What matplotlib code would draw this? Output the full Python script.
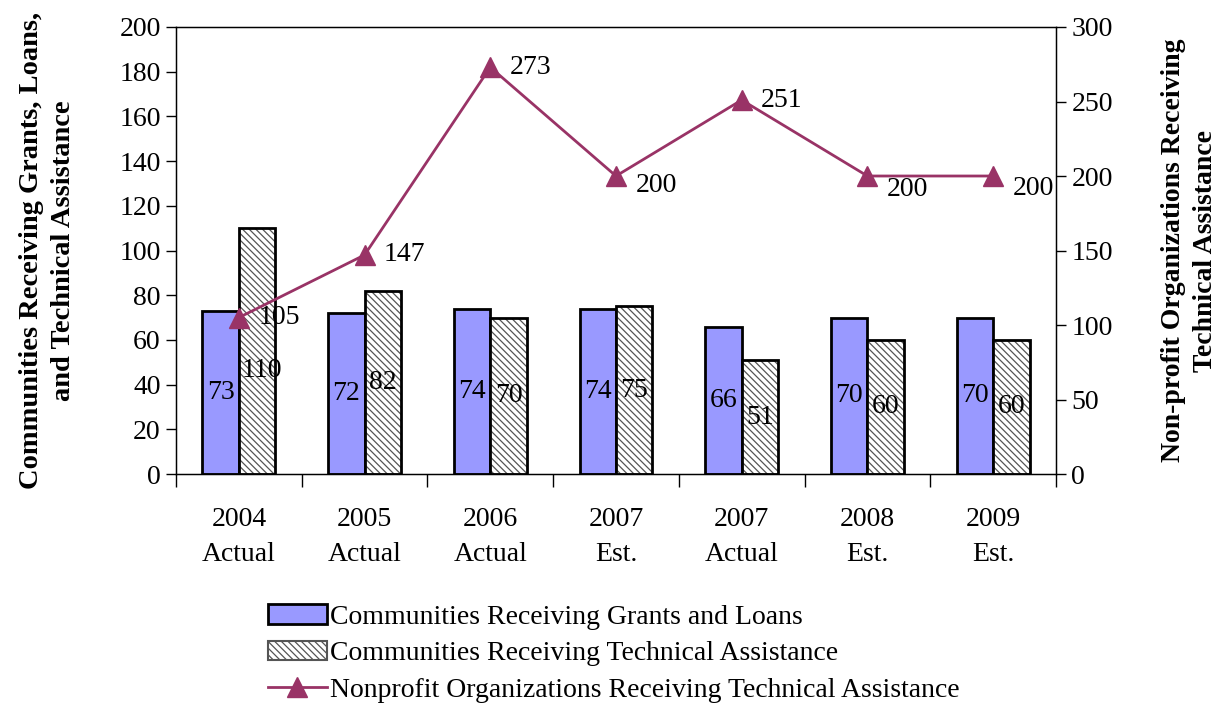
import matplotlib.pyplot as plt
import numpy as np
from matplotlib.patches import Patch
from matplotlib.lines import Line2D

years = ["2004\nActual", "2005\nActual", "2006\nActual", "2007\nEst.",
         "2007\nActual", "2008\nEst.", "2009\nEst."]
grants_loans = [73, 72, 74, 74, 66, 70, 70]
tech_assist = [110, 82, 70, 75, 51, 60, 60]
nonprofits = [105, 147, 273, 200, 251, 200, 200]

plt.rcParams['font.family'] = ['Liberation Serif', 'DejaVu Serif']
plt.rcParams['hatch.linewidth'] = 0.9

BLUE = '#9999FF'
PLUM = '#993366'
HATCH_GRAY = '#555555'
FS = 20

fig = plt.figure(figsize=(12.17, 7.03), dpi=100)
ax = fig.add_axes([0.1446, 0.3257, 0.7231, 0.6359])

x = np.arange(len(years))
w = 0.29

ax.bar(x - w / 2, grants_loans, w, color=BLUE, edgecolor='black', linewidth=2, zorder=2)
# hatched fill first, then a plain black outline on top
ax.bar(x + w / 2, tech_assist, w, color='white', edgecolor=HATCH_GRAY,
       hatch='\\\\\\\\\\', linewidth=0, zorder=2)
ax.bar(x + w / 2, tech_assist, w, color='none', edgecolor='black', linewidth=2, zorder=3)

for xi, v in zip(x, grants_loans):
    ax.text(xi - w / 2, v / 2, str(v), ha='center', va='center', fontsize=FS, zorder=5)
# the tallest label is nudged down so it clears the line label above it
for xi, v in zip(x, tech_assist):
    ax.text(xi + w / 2 + (0.04 if v >= 100 else 0), v / 2 - (8.5 if v >= 100 else 0), str(v),
            ha='center', va='center', fontsize=FS, zorder=5)

ax.set_xlim(-0.5, len(years) - 0.5)
ax.set_ylim(0, 200)
ax.set_yticks(range(0, 201, 20))
ax.set_xticks(x)
ax.set_xticklabels(years, fontsize=FS, linespacing=1.5)
ax.set_xticks(np.arange(-0.5, len(years), 1), minor=True)
ax.tick_params(axis='x', which='major', length=0, pad=24)
ax.tick_params(axis='x', which='minor', length=9, width=1, direction='out')
ax.tick_params(axis='y', labelsize=FS, length=7, width=1, direction='out', pad=4)
for s in ax.spines.values():
    s.set_linewidth(1)
ax.set_ylabel("Communities Receiving Grants, Loans,\nand Technical Assistance",
              fontsize=20.5, fontweight='bold', labelpad=31, linespacing=1.35)

ax2 = ax.twinx()
ax2.plot(x, nonprofits, color=PLUM, linewidth=2, marker='^', markersize=14, zorder=6)
label_dy = [0, 0, 0, -7, 0, -10, -9]
for xi, v, dy in zip(x, nonprofits, label_dy):
    ax2.annotate(str(v), (xi, v), xytext=(14, dy), textcoords='offset points',
                 ha='left', va='center', fontsize=FS)
ax2.set_ylim(0, 300)
ax2.set_yticks(range(0, 301, 50))
ax2.tick_params(axis='y', labelsize=FS, length=7, width=1, direction='out', pad=4)
ax2.set_ylabel("Non-profit Organizations Receiving\nTechnical Assistance",
               fontsize=20, fontweight='bold', labelpad=35, linespacing=1.35)

handles = [
    Patch(facecolor=BLUE, edgecolor='black', linewidth=2),
    Patch(facecolor='white', edgecolor=HATCH_GRAY, hatch='\\\\\\\\\\', linewidth=1.5),
    Line2D([], [], color=PLUM, linewidth=2, marker='^', markersize=14),
]
labels = ['Communities Receiving Grants and Loans',
          'Communities Receiving Technical Assistance',
          'Nonprofit Organizations Receiving Technical Assistance']
fig.legend(handles, labels, loc='upper left', bbox_to_anchor=(0.2085, 0.16),
           frameon=False, fontsize=FS, handlelength=2.15, handleheight=0.7,
           handletextpad=0.1, labelspacing=0.4, borderpad=0)

fig.savefig('out.png', dpi=100)
